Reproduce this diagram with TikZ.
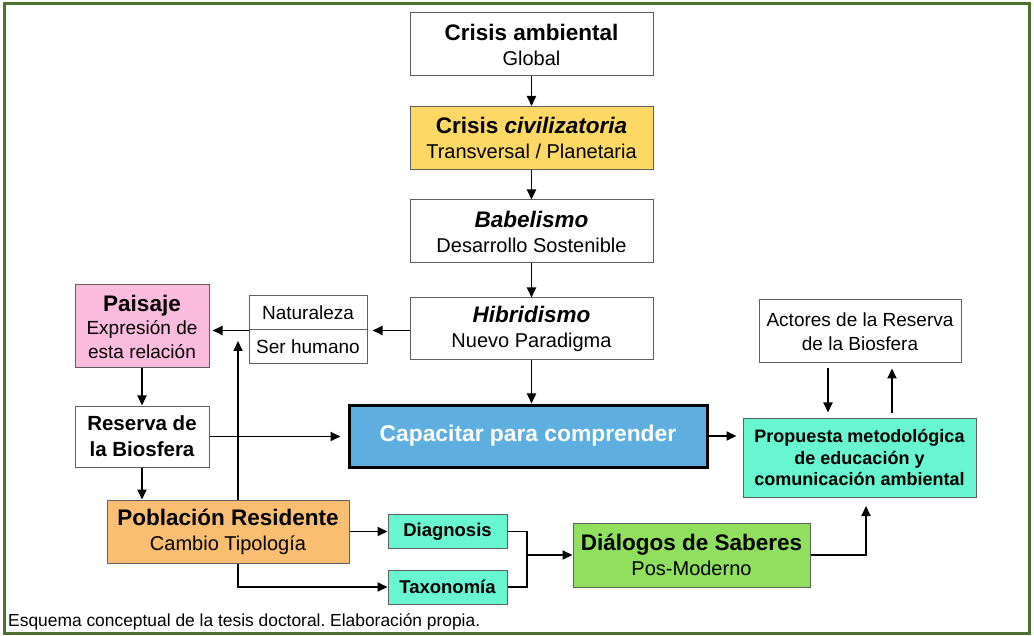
\documentclass[tikz,border=0pt]{standalone}
\usepackage{fontspec}
\setmainfont{Liberation Sans}
\usetikzlibrary{arrows.meta,calc}
\definecolor{frm}{RGB}{78,112,48}
\definecolor{bordc}{RGB}{95,95,95}
\definecolor{yel}{RGB}{253,216,100}
\definecolor{pnk}{RGB}{251,187,221}
\definecolor{org}{RGB}{249,190,114}
\definecolor{aqu}{RGB}{104,246,208}
\definecolor{grn}{RGB}{145,223,94}
\definecolor{blu}{RGB}{94,174,224}
\newcommand\ttlf{\fontsize{22.5}{25}\selectfont\bfseries}
\newcommand\subf{\fontsize{20}{25}\selectfont}
\frenchspacing
\begin{document}
\begin{tikzpicture}[x=1pt,y=-1pt,
  box/.style={draw=bordc,line width=1pt,fill=white,align=center,inner sep=0pt,
    font=\fontsize{20}{25}\selectfont},
  arr/.style={line width=1.8pt,-{Triangle[length=10pt,width=9pt]}},
  ln/.style={line width=1.8pt}]
\useasboundingbox (0,0) rectangle (1034,636);
\draw[frm,line width=3pt] (4,4) rectangle (1029,633);

\node[box,minimum width=243pt,minimum height=63pt] (ca) at (531.5,44.5)
  {{\ttlf Crisis ambiental}\\{\subf Global}};
\node[box,fill=yel,minimum width=243pt,minimum height=63pt] (civ) at (531.5,138)
  {{\ttlf Crisis \textit{civilizatoria}}\\{\subf Transversal / Planetaria}};
\node[box,minimum width=243pt,minimum height=63pt] (bab) at (531.5,231.5)
  {{\ttlf\itshape Babelismo}\\{\subf Desarrollo Sostenible}};
\node[box,minimum width=243pt,minimum height=62pt] (hib) at (531.5,329)
  {{\ttlf\itshape Hibridismo}\\{\subf Nuevo Paradigma}};

\node[box,minimum width=118pt,minimum height=34pt,font=\fontsize{19}{22}\selectfont] (nat) at (308,313) {Naturaleza};
\node[box,minimum width=118pt,minimum height=34pt,font=\fontsize{19}{22}\selectfont] (ser) at (308,347) {Ser humano};

\node[box,fill=pnk,minimum width=134pt,minimum height=83pt,font=\fontsize{19}{23.5}\selectfont] (pai) at (142,326.5)
  {{\fontsize{22.5}{23.5}\selectfont\bfseries Paisaje}\\Expresión de\\esta relación};
\node[box,minimum width=134pt,minimum height=61pt,font=\fontsize{20.5}{26}\selectfont\bfseries] (res) at (142,436.5)
  {Reserva de\\la Biosfera};
\node[box,fill=org,minimum width=242pt,minimum height=63pt] (pob) at (228,531.5)
  {{\ttlf Población Residente}\\{\subf Cambio Tipología}};
\node[box,fill=aqu,minimum width=119pt,minimum height=34pt,font=\fontsize{18.5}{22}\selectfont\bfseries] (dia) at (447.5,531.5) {Diagnosis};
\node[box,fill=aqu,minimum width=119pt,minimum height=34pt,font=\fontsize{18.5}{22}\selectfont\bfseries] (tax) at (447.5,587) {Taxonomía};
\node[box,fill=grn,minimum width=237pt,minimum height=64pt] (dlg) at (691.5,555)
  {{\ttlf Diálogos de Saberes}\\{\subf Pos-Moderno}};
\node[box,draw=black,line width=3pt,fill=blu,minimum width=358pt,minimum height=62pt,
  font=\fontsize{22.8}{25}\selectfont\bfseries,text=white] (cap) at (528,436) {Capacitar para comprender};
\node[box,fill=aqu,minimum width=233pt,minimum height=79pt,font=\fontsize{18}{21.5}\selectfont\bfseries] (pro) at (859.5,457.5)
  {Propuesta metodológica\\de educación y\\comunicación ambiental};
\node[box,minimum width=202pt,minimum height=63pt,font=\fontsize{19}{24}\selectfont] (act) at (860,331.5)
  {Actores de la Reserva\\de la Biosfera};

\node[anchor=base west,inner sep=0pt,font=\fontsize{17.4}{20}\selectfont] (cap2) at (8,626)
  {Esquema conceptual de la tesis doctoral. Elaboración propia.};

\coordinate (up) at (238,341);
\coordinate (mg) at (527,555);
\coordinate (pu) at (866,506);

\draw[arr] (ca.south) -- (civ.north);
\draw[arr] (civ.south) -- (bab.north);
\draw[arr] (bab.south) -- (hib.north);
\draw[arr] (hib.south) -- (hib.south |- cap.north);
\draw[arr,shorten >=5pt] (nat.south east -| hib.west) -- (nat.south east);
\draw[arr,shorten >=3pt] (nat.south west) -- (nat.south west -| pai.east);
\draw[arr] (pai.south) -- (res.north);
\draw[arr,shorten >=7pt] (res.east) -- (res.east -| cap.west);
\draw[arr] (res.south) -- (res.south |- pob.north);
\draw[arr] (up |- pob.north) -- (up);
\draw[arr] (pob.east) -- (pob.east -| dia.west);
\draw[arr] (up |- pob.south) |- (tax.west);
\draw[ln] (dia.east) -| (mg) |- (tax.east);
\draw[arr] (mg) -- (mg -| dlg.west);
\draw[arr] (dlg.east) -| (pu);
\draw[arr,shorten >=6pt] (cap.east) -- (cap.east -| pro.west);
\draw[arr,shorten <=5pt,shorten >=5pt] (act.south -| 828,0) -- (pro.north -| 828,0);
\draw[arr,shorten <=5pt,shorten >=5pt] (pro.north -| 892,0) -- (act.south -| 892,0);
\end{tikzpicture}
\end{document}
